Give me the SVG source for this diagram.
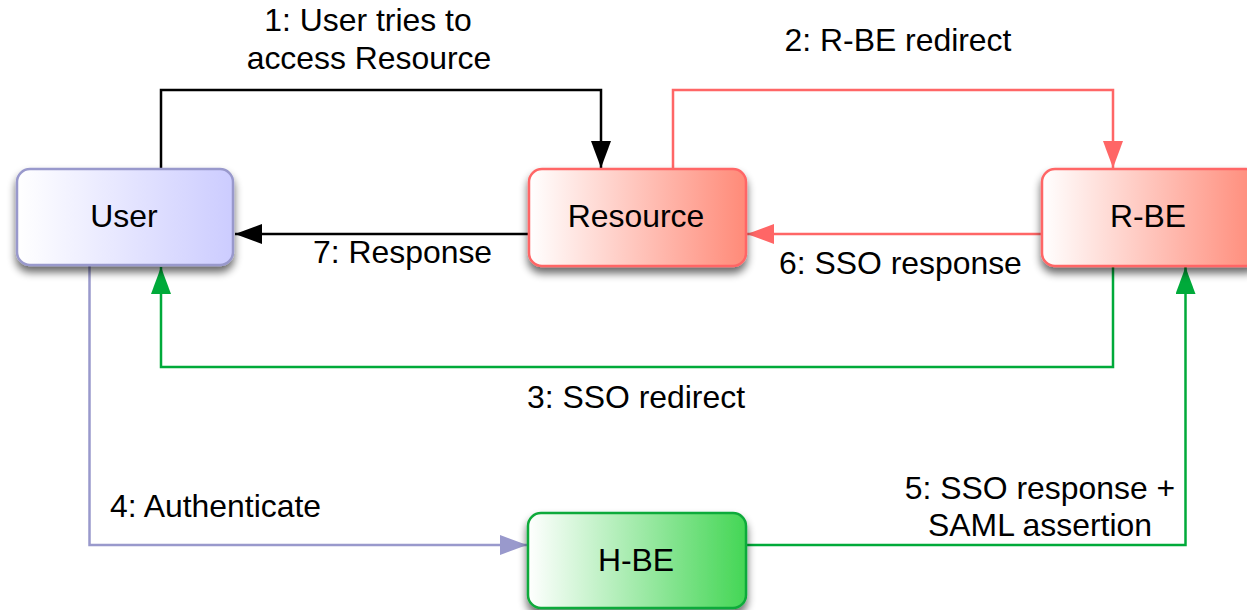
<svg xmlns="http://www.w3.org/2000/svg" width="1247" height="610" viewBox="0 0 1247 610">
<style>
text{font-family:"Liberation Sans",Arial,sans-serif;font-size:31.9px;fill:#000}
.node text{text-anchor:middle}
.c{text-anchor:middle}
.ln{fill:none;stroke-width:2.5}
</style>
<defs>
<linearGradient id="gU" x1="0" y1="0" x2="1" y2="0"><stop offset="0" stop-color="#ffffff"/><stop offset="1" stop-color="#ccccff"/></linearGradient>
<linearGradient id="gR" x1="0" y1="0" x2="1" y2="0"><stop offset="0" stop-color="#ffffff"/><stop offset="1" stop-color="#ff8a78"/></linearGradient>
<linearGradient id="gH" x1="0" y1="0" x2="1" y2="0"><stop offset="0" stop-color="#ffffff"/><stop offset="1" stop-color="#44d655"/></linearGradient>
<filter id="sh" x="-20%" y="-20%" width="140%" height="150%"><feGaussianBlur in="SourceAlpha" stdDeviation="4"/><feOffset dx="0" dy="6"/><feComponentTransfer><feFuncA type="linear" slope="0.6"/></feComponentTransfer><feMerge><feMergeNode/><feMergeNode in="SourceGraphic"/></feMerge></filter>
<marker id="aK" markerWidth="27" markerHeight="20" refX="27" refY="10" orient="auto" markerUnits="userSpaceOnUse"><path d="M0,0 L27,10 L0,20 Z" fill="#000"/></marker>
<marker id="aR" markerWidth="27" markerHeight="20" refX="27" refY="10" orient="auto" markerUnits="userSpaceOnUse"><path d="M0,0 L27,10 L0,20 Z" fill="#ff6666"/></marker>
<marker id="aG" markerWidth="27" markerHeight="20" refX="27" refY="10" orient="auto" markerUnits="userSpaceOnUse"><path d="M0,0 L27,10 L0,20 Z" fill="#00aa3a"/></marker>
<marker id="aP" markerWidth="27" markerHeight="20" refX="27" refY="10" orient="auto" markerUnits="userSpaceOnUse"><path d="M0,0 L27,10 L0,20 Z" fill="#9999cc"/></marker>
</defs>
<rect width="1247" height="610" fill="#fff"/>
<g id="connectors">
<polyline class="ln" stroke="#000" points="161,169 161,90 601,90 601,168" marker-end="url(#aK)"/>
<polyline class="ln" stroke="#ff6666" points="673,169 673,90 1113,90 1113,168" marker-end="url(#aR)"/>
<polyline class="ln" stroke="#000" points="529,234 235,234" marker-end="url(#aK)"/>
<polyline class="ln" stroke="#ff6666" points="1042,234 747,234" marker-end="url(#aR)"/>
<polyline class="ln" stroke="#00aa3a" points="1113,266 1113,367 161,367 161,267" marker-end="url(#aG)"/>
<polyline class="ln" stroke="#9999cc" points="89.5,266 89.5,545 527,545" marker-end="url(#aP)"/>
<polyline class="ln" stroke="#00aa3a" points="746,545 1185.5,545 1185.5,267" marker-end="url(#aG)"/>
<text class="c" x="368" y="31">1: User tries to</text>
<text class="c" x="369" y="69">access Resource</text>
<text class="c" x="898" y="51">2: R-BE redirect</text>
<text x="313" y="263">7: Response</text>
<text x="779" y="274">6: SSO response</text>
<text class="c" x="636" y="408">3: SSO redirect</text>
<text x="110" y="517">4: Authenticate</text>
<text class="c" x="1040" y="499">5: SSO response +</text>
<text class="c" x="1040" y="536">SAML assertion</text>
</g>
<g id="user" class="node"><rect x="17" y="169" width="216" height="96" rx="13" fill="url(#gU)" stroke="#9999cc" stroke-width="2.5" filter="url(#sh)"/><text x="124" y="227">User</text></g>
<g id="resource" class="node"><rect x="529" y="169" width="217" height="97" rx="13" fill="url(#gR)" stroke="#ff6666" stroke-width="2.5" filter="url(#sh)"/><text x="636" y="227">Resource</text></g>
<g id="rbe" class="node"><rect x="1042" y="169" width="217" height="97" rx="13" fill="url(#gR)" stroke="#ff6666" stroke-width="2.5" filter="url(#sh)"/><text x="1148" y="227">R-BE</text></g>
<g id="hbe" class="node"><rect x="528" y="513" width="218" height="95" rx="13" fill="url(#gH)" stroke="#11aa3a" stroke-width="2.5" filter="url(#sh)"/><text x="636" y="571">H-BE</text></g>
</svg>
